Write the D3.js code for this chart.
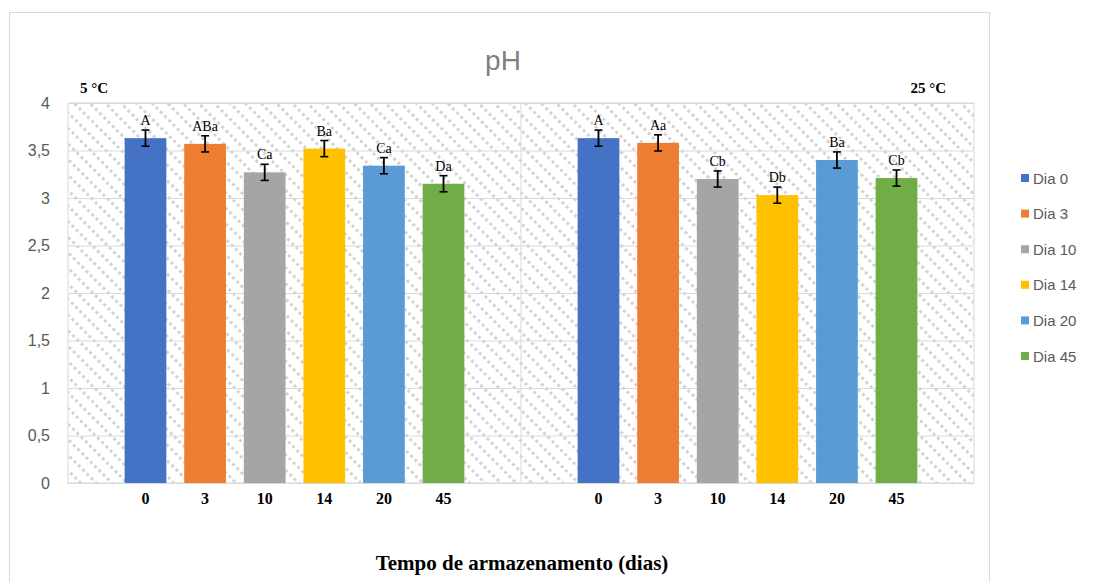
<!DOCTYPE html>
<html>
<head>
<meta charset="utf-8">
<script src="https://cdn.jsdelivr.net/npm/d3@7"></script>
<style>
  body { margin: 0; background: #fff; }
  .ylab text { font-family: "Liberation Sans", Arial, sans-serif; font-size: 16px; fill: #595959; }
  .xlab text { font-family: "Liberation Serif", "Times New Roman", serif; font-size: 16px; font-weight: bold; fill: #000; }
  .axis path, .axis line { display: none; }
</style>
</head>
<body>
<div class="demo"></div>
<script>
const w = 1093, h = 582;
const pLeft = 68, pRight = 974, pTop = 103, pBottom = 483;

const temps = ['5 °C', '25 °C'];
const days = ['0', '3', '10', '14', '20', '45'];
const legendNames = ['Dia 0', 'Dia 3', 'Dia 10', 'Dia 14', 'Dia 20', 'Dia 45'];
const colors = ['#4472C4', '#ED7D31', '#A5A5A5', '#FFC000', '#5B9BD5', '#70AD47'];
const ph5 = [3.63, 3.57, 3.27, 3.52, 3.34, 3.15];
const ph25 = [3.63, 3.58, 3.20, 3.03, 3.40, 3.21];
const err5 = [0.085, 0.085, 0.085, 0.085, 0.085, 0.085];
const err25 = [0.085, 0.085, 0.085, 0.085, 0.085, 0.085];
const letters5 = ['A', 'ABa', 'Ca', 'Ba', 'Ca', 'Da'];
const letters25 = ['A', 'Aa', 'Cb', 'Db', 'Ba', 'Cb'];
const yTicks = [0, 0.5, 1, 1.5, 2, 2.5, 3, 3.5, 4];

let dataset = [];
temps.forEach(function(t, ti) {
  days.forEach(function(d, di) {
    dataset.push({
      temp: t, day: d, i: di,
      v: ti === 0 ? ph5[di] : ph25[di],
      e: ti === 0 ? err5[di] : err25[di],
      lab: ti === 0 ? letters5[di] : letters25[di]
    });
  });
});

let x0 = d3.scaleBand().domain(temps).range([pLeft, pRight]).padding(0);
let x1 = d3.scaleBand().domain(days).range([0, x0.bandwidth()]).paddingInner(0.3).paddingOuter(0.95);
let yScale = d3.scaleLinear().domain([0, 4]).range([pBottom, pTop]);

let svg = d3.select('.demo').append('svg').attr('width', w).attr('height', h);

// hatch pattern (dotted diagonal lines)
let defs = svg.append('defs');
let pat = defs.append('pattern').attr('id', 'hatch')
  .attr('patternUnits', 'userSpaceOnUse')
  .attr('width', 11).attr('height', 12)
  .attr('patternTransform', 'rotate(-45)');
pat.append('rect').attr('width', 11).attr('height', 12).attr('fill', '#fff');
pat.append('line').attr('x1', 1.5).attr('y1', 0).attr('x2', 1.5).attr('y2', 12)
  .attr('stroke', '#d4d4d4').attr('stroke-width', 3).attr('stroke-dasharray', '3,3');

// outer border
svg.append('rect').attr('x', 9.5).attr('y', 12.5).attr('width', 980).attr('height', 580)
  .attr('fill', 'none').attr('stroke', '#d9d9d9');

svg.append('text').attr('x', 503).attr('y', 70).attr('text-anchor', 'middle')
  .attr('font-family', 'Liberation Sans, Arial, sans-serif').attr('font-size', 28)
  .attr('fill', '#808080').text('pH');

// plot area
svg.append('rect').attr('x', pLeft).attr('y', pTop).attr('width', pRight - pLeft).attr('height', pBottom - pTop)
  .attr('fill', 'url(#hatch)').attr('stroke', '#d9d9d9');

let yGrid = d3.axisRight(yScale).tickValues(yTicks).tickFormat('').tickSize(pRight - pLeft);
svg.append('g').attr('class', 'grid')
  .attr('transform', 'translate(' + pLeft + ',0)')
  .call(yGrid)
  .call(function(g) { g.select('.domain').remove(); g.selectAll('line').attr('stroke', '#d9d9d9'); });

// divider between groups
svg.append('line')
  .attr('x1', x0('25 °C')).attr('x2', x0('25 °C'))
  .attr('y1', pTop).attr('y2', pBottom)
  .attr('stroke', '#d9d9d9');

let yAxis = d3.axisLeft(yScale).tickValues(yTicks).tickSize(0).tickPadding(18)
  .tickFormat(function(d) { return String(d).replace('.', ','); });
svg.append('g').attr('class', 'axis ylab')
  .attr('transform', 'translate(' + pLeft + ',0)')
  .call(yAxis);

// bars
let groups = svg.selectAll('g.grp').data(temps).enter().append('g')
  .attr('class', 'grp')
  .attr('transform', function(t) { return 'translate(' + x0(t) + ',0)'; });

groups.selectAll('rect').data(function(t) { return dataset.filter(function(d) { return d.temp === t; }); })
  .enter().append('rect')
  .attr('x', function(d) { return x1(d.day); })
  .attr('width', x1.bandwidth())
  .attr('y', function(d) { return yScale(d.v); })
  .attr('height', function(d) { return yScale(0) - yScale(d.v); })
  .attr('fill', function(d) { return colors[d.i]; });

let eb = groups.selectAll('g.err').data(function(t) { return dataset.filter(function(d) { return d.temp === t; }); })
  .enter().append('g').attr('class', 'err')
  .attr('transform', function(d) { return 'translate(' + (x1(d.day) + x1.bandwidth() / 2) + ',0)'; });
eb.append('line').attr('x1', 0).attr('x2', 0)
  .attr('y1', function(d) { return yScale(d.v + d.e); })
  .attr('y2', function(d) { return yScale(d.v - d.e); })
  .attr('stroke', '#000').attr('stroke-width', 1.8);
eb.append('line').attr('x1', -4).attr('x2', 4)
  .attr('y1', function(d) { return yScale(d.v + d.e); })
  .attr('y2', function(d) { return yScale(d.v + d.e); })
  .attr('stroke', '#000').attr('stroke-width', 1.6);
eb.append('line').attr('x1', -4).attr('x2', 4)
  .attr('y1', function(d) { return yScale(d.v - d.e); })
  .attr('y2', function(d) { return yScale(d.v - d.e); })
  .attr('stroke', '#000').attr('stroke-width', 1.6);
eb.append('text')
  .attr('y', function(d) { return yScale(d.v + d.e) - 5; })
  .attr('text-anchor', 'middle')
  .attr('font-family', 'Liberation Serif, Times New Roman, serif').attr('font-size', 14)
  .attr('fill', '#000')
  .text(function(d) { return d.lab; });

// x tick labels
groups.each(function() {
  d3.select(this).append('g').attr('class', 'axis xlab')
    .attr('transform', 'translate(0,' + pBottom + ')')
    .call(d3.axisBottom(x1).tickSize(0).tickPadding(10));
});

// temperature labels
svg.append('text').attr('x', 80).attr('y', 93)
  .attr('font-family', 'Liberation Serif, Times New Roman, serif').attr('font-size', 15)
  .attr('font-weight', 'bold').text(temps[0]);
svg.append('text').attr('x', 946).attr('y', 93).attr('text-anchor', 'end')
  .attr('font-family', 'Liberation Serif, Times New Roman, serif').attr('font-size', 15)
  .attr('font-weight', 'bold').text(temps[1]);

svg.append('text').attr('x', 522).attr('y', 570).attr('text-anchor', 'middle')
  .attr('font-family', 'Liberation Serif, Times New Roman, serif').attr('font-size', 21)
  .attr('font-weight', 'bold').text('Tempo de armazenamento (dias)');

// legend
let leg = svg.selectAll('g.leg').data(legendNames).enter().append('g')
  .attr('class', 'leg')
  .attr('transform', function(d, i) { return 'translate(1021,' + (178 + i * 35.6) + ')'; });
leg.append('rect').attr('x', 0).attr('y', -4).attr('width', 8).attr('height', 8)
  .attr('fill', function(d, i) { return colors[i]; });
leg.append('text').attr('x', 12).attr('y', 5.5)
  .attr('font-family', 'Liberation Sans, Arial, sans-serif').attr('font-size', 15)
  .attr('fill', '#595959').text(function(d) { return d; });
</script>
</body>
</html>
